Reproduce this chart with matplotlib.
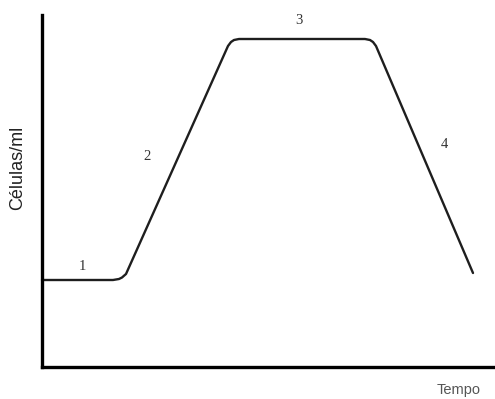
import matplotlib
matplotlib.use("Agg")
import matplotlib.pyplot as plt

# curva de crescimento (esquema)
tempo = [0, 71, 77, 80, 84, 186, 189, 192, 197, 323, 328, 331, 334, 431]
celulas = [87, 87, 88, 89.5, 93, 321, 325, 327, 328, 328, 327, 325, 321, 94]

# rótulos das fases
fases = ["1", "2", "3", "4"]
fases_x = [40, 105, 257, 402]
fases_y = [100, 210, 347, 222]

fig = plt.figure(figsize=(4.95, 3.99), dpi=100)
ax = fig.add_axes([42 / 495, 32 / 399, 453 / 495, 352 / 399])

ax.plot(tempo, celulas, color="#1e1e1e", lw=1.7, solid_joinstyle="round",
        solid_capstyle="round", clip_on=False)

for f, x, y in zip(fases, fases_x, fases_y):
    ax.text(x, y, f, family="Liberation Serif", fontsize=10.5, color="#333333",
            ha="center", va="center")

ax.set_xlim(0, 453)
ax.set_ylim(0, 352)

for s in ["top", "right"]:
    ax.spines[s].set_visible(False)
for s in ["left", "bottom"]:
    ax.spines[s].set_linewidth(2.4)
    ax.spines[s].set_color("black")
    ax.spines[s].set_capstyle("projecting")
ax.set_xticks([])
ax.set_yticks([])

fig.text(18 / 495, 1 - 168 / 399, "Células/ml", rotation=90, family="Liberation Sans",
         fontsize=13, color="#222222", ha="center", va="center")
fig.text(459 / 495, 1 - 390 / 399, "Tempo", family="Liberation Sans",
         fontsize=10.5, color="#555555", ha="center", va="center")

fig.savefig("out.png", dpi=100)
